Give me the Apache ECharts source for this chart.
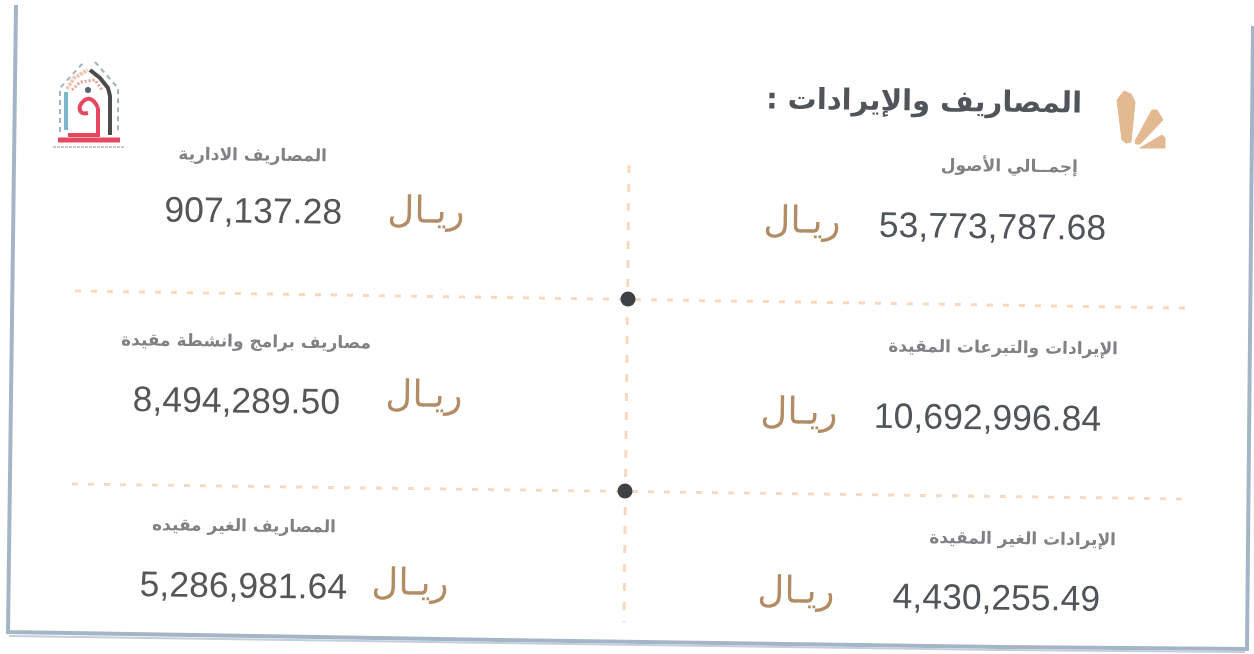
<!DOCTYPE html>
<html>
<head>
<meta charset="utf-8">
<title>المصاريف والإيرادات</title>
<style>
  html, body { margin: 0; padding: 0; background: #fff; }
  #app { width: 1254px; height: 654px; }
</style>
<script src="https://cdn.jsdelivr.net/npm/echarts@6/dist/echarts.min.js"></script>
</head>
<body>
<div id="app" dir="rtl"></div>
<script>
const titleText = "المصاريف والإيرادات :";
const currency = "ريـال";

// right column first, then left column
const labels = [
  "إجمــالي الأصول",
  "الإيرادات والتبرعات المقيدة",
  "الإيرادات الغير المقيدة",
  "المصاريف الادارية",
  "مصاريف برامج وانشطة مقيدة",
  "المصاريف الغير مقيده"
];
const amounts = [
  "53,773,787.68",
  "10,692,996.84",
  "4,430,255.49",
  "907,137.28",
  "8,494,289.50",
  "5,286,981.64"
];

// where each block goes on the scan: label right edge/y, amount right edge/y, riyal centre/y
const blockPos = [
  { lx: 1078, ly: 168, ax: 1106, ay: 230, rx: 802, ry: 223 },
  { lx: 1118, ly: 350, ax: 1101, ay: 421, rx: 799, ry: 414 },
  { lx: 1116, ly: 541, ax: 1100, ay: 601, rx: 796, ry: 593 },
  { lx: 327, ly: 157, ax: 342, ay: 214, rx: 426, ry: 213 },
  { lx: 371, ly: 344, ax: 340, ay: 404, rx: 424, ry: 397 },
  { lx: 336, ly: 528, ax: 347, ay: 589, rx: 410, ry: 585 }
];

const TILT = -0.013;
const ARABIC = '"DejaVu Sans", "Noto Sans", sans-serif';

function textEl(text, x, y, align, font, size, color, weight) {
  return {
    type: "text",
    x: x,
    y: y,
    rotation: TILT,
    style: {
      text: text,
      x: 0,
      y: 0,
      textAlign: align,
      textVerticalAlign: "middle",
      fontFamily: font,
      fontSize: size,
      fontWeight: weight || "normal",
      fill: color
    }
  };
}

function lineEl(points, color, width, dash, smooth) {
  return {
    type: "polyline",
    shape: { points: points, smooth: smooth || 0 },
    style: { stroke: color, lineWidth: width, lineDash: dash || null, fill: null, lineCap: "butt" }
  };
}

function buildFrame() {
  const edge = "#a5b5c8";
  return [
    lineEl([[16, 5], [13, 240], [8, 632], [500, 640], [1000, 647], [1247, 649], [1253, 26]], edge, 4),
    lineEl([[9, 636], [500, 643], [1000, 650], [1245, 652]], "#c3cedb", 2)
  ];
}

function buildDividers() {
  const dash = "#f8d9bf";
  return [
    lineEl([[75, 291], [1186, 308]], dash, 3, [6, 10]),
    lineEl([[72, 484], [1186, 499]], dash, 3, [6, 10]),
    lineEl([[629, 165], [624, 622]], dash, 3, [8, 11]),
    { type: "circle", shape: { cx: 628, cy: 299, r: 7.5 }, style: { fill: "#3f4145" } },
    { type: "circle", shape: { cx: 625, cy: 491, r: 7.5 }, style: { fill: "#3f4145" } }
  ];
}

function buildIcon() {
  const tan = "#e2b991";
  const shapes = [
    [[1117, 100], [1124, 91], [1131, 94], [1135, 102], [1131, 142], [1126, 143], [1122, 140]],
    [[1135, 141], [1152, 110], [1157, 110], [1163, 120], [1140, 144], [1136, 144]],
    [[1140, 148], [1162, 135], [1165, 138], [1165, 148]]
  ];
  return shapes.map(function (pts) {
    return { type: "polygon", shape: { points: pts }, style: { fill: tan, stroke: tan, lineWidth: 1, lineJoin: "round" } };
  });
}

function buildLogo() {
  return [
    lineEl([[60, 132], [60, 88], [84, 62]], "#a6b4c2", 2, [5, 4]),
    lineEl([[95, 62], [118, 88], [118, 132]], "#a6b4c2", 2, [5, 4]),
    lineEl([[67, 89], [74, 78], [88, 70]], "#f0c8b0", 4, [3, 1]),
    lineEl([[72, 90], [80, 82], [95, 80], [102, 90]], "#ec9f9a", 3, [2, 2]),
    lineEl([[90, 70], [100, 78], [108, 88], [110, 96], [110, 135]], "#4b4b4d", 4),
    lineEl([[66, 92], [66, 130]], "#7db7cc", 4),
    lineEl([[68, 135], [98, 135], [98, 108]], "#e8485f", 4),
    lineEl([[98, 108], [90, 99], [81, 104], [81, 112], [88, 113]], "#e8485f", 4, null, 0.5),
    lineEl([[58, 140], [120, 140]], "#e8485f", 5),
    lineEl([[53, 147], [125, 147]], "#b6b6ba", 1.5, [3, 1]),
    { type: "circle", shape: { cx: 88, cy: 90, r: 3 }, style: { fill: "#51647c" } }
  ];
}

function buildTexts() {
  const out = [textEl(titleText, 1082, 105, "right", ARABIC, 29, "#50555c", "bold")];
  labels.forEach(function (label, i) {
    const p = blockPos[i];
    out.push(textEl(label, p.lx, p.ly, "right", ARABIC, 17, "#808184", "bold"));
    out.push(textEl(amounts[i], p.ax, p.ay, "right", '"Liberation Sans", Arial, sans-serif', 35.5, i < 3 ? "#50545b" : "#565656"));
    out.push(textEl(currency, p.rx, p.ry, "center", ARABIC, 37, "#b28c64"));
  });
  return out;
}

const chart = echarts.init(document.getElementById("app"), null, { renderer: "canvas" });
chart.setOption({
  backgroundColor: "#ffffff",
  animation: false,
  graphic: {
    elements: [].concat(buildFrame(), buildDividers(), buildIcon(), buildLogo(), buildTexts())
  }
});

window.onresize = function () {
  chart.resize();
};
</script>
</body>
</html>
